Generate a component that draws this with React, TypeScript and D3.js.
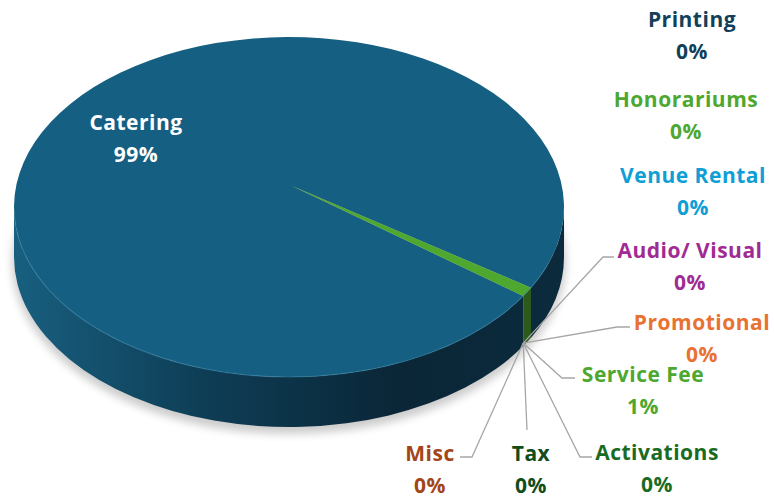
import React from "react";
import * as d3 from "d3";

const categories = ["Catering", "Service Fee", "Printing", "Honorariums", "Venue Rental", "Audio/ Visual", "Promotional", "Activations", "Tax", "Misc"];
const amounts = [99.1, 0.9, 0, 0, 0, 0, 0, 0, 0, 0];
const sliceColors = ["#156082", "#4EA72E", "#123F5A", "#4EA72E", "#0F9ED5", "#A02B93", "#E97132", "#196B24", "#114D1A", "#A34519"];
const sideColors = ["#0d3a50", "#2c5a1b", "#0a2738", "#2c5a1b", "#09607f", "#5e1956", "#8a431d", "#0f4015", "#0a2e10", "#62290f"];

// label layout: [centerX, baselineY of first line]; leader polylines (null = none)
const labelPos: Record<string, [number, number]> = {
  "Catering": [136, 130],
  "Service Fee": [643, 382],
  "Printing": [692, 27],
  "Honorariums": [686, 107],
  "Venue Rental": [693, 183],
  "Audio/ Visual": [690, 258],
  "Promotional": [702, 330],
  "Activations": [657, 460],
  "Tax": [531, 461],
  "Misc": [430, 461],
};
const leaderEnds: Record<string, [number, number][] | null> = {
  "Service Fee": [[562, 378], [575, 378]],
  "Audio/ Visual": [[603, 257], [614, 257]],
  "Promotional": [[617, 327], [630, 327]],
  "Activations": [[580, 457], [592, 457]],
  "Tax": [[527, 430]],
  "Misc": [[472, 457], [460, 457]],
};

const W = 774, H = 498;
const cx = 289, cy = 207, rx = 275, ry = 170, depth = 50;
const apex: [number, number] = [292, 186];
const startA = (121.6 * Math.PI) / 180;

const pt = (a: number, dy = 0): [number, number] => [cx + rx * Math.sin(a), cy - ry * Math.cos(a) + dy];

function topPath(s: number, e: number) {
  if (e - s >= 2 * Math.PI - 1e-9) {
    const p0 = pt(0), p1 = pt(Math.PI);
    return `M${p0}A${rx},${ry},0,1,1,${p1}A${rx},${ry},0,1,1,${p0}Z`;
  }
  const p0 = pt(s), p1 = pt(e);
  const large = e - s > Math.PI ? 1 : 0;
  return `M${apex}L${p0}A${rx},${ry},0,${large},1,${p1}Z`;
}

function sidePaths(s: number, e: number) {
  const out: string[] = [];
  for (let k = -1; k <= 2; k++) {
    const fs = Math.PI / 2 + 2 * Math.PI * k, fe = (3 * Math.PI) / 2 + 2 * Math.PI * k;
    const a0 = Math.max(s, fs), a1 = Math.min(e, fe);
    if (a1 - a0 > 1e-6) {
      const p0 = pt(a0), p1 = pt(a1), q1 = pt(a1, depth), q0 = pt(a0, depth);
      out.push(`M${p0}A${rx},${ry},0,0,1,${p1}L${q1}A${rx},${ry},0,0,0,${q0}Z`);
    }
  }
  return out;
}

export default function App() {
  const total = d3.sum(amounts);
  const pie = d3.pie<number>().sort(null).startAngle(startA).endAngle(startA + 2 * Math.PI);
  const arcs = pie(amounts);
  const fmt = d3.format(".0%");
  const anchor = pt(startA, depth - 3);
  const font = "'Open Sans', sans-serif";

  return (
    <svg width={W} height={H} style={{ position: "absolute", left: 0, top: 0, display: "block" }}>
      <defs>
        <linearGradient id="sideGrad" gradientUnits="userSpaceOnUse" x1={cx - rx} x2={cx + rx} y1={0} y2={0}>
          <stop offset="0" stopColor="#185f7f" />
          <stop offset="0.35" stopColor="#0e3d55" />
          <stop offset="0.7" stopColor="#0a2637" />
          <stop offset="1" stopColor="#0b2b3c" />
        </linearGradient>
        <filter id="shadow" x="-20%" y="-20%" width="140%" height="140%">
          <feGaussianBlur stdDeviation="4" />
        </filter>
      </defs>
      <rect width={W} height={H} fill="#fff" />
      <ellipse cx={cx} cy={cy + depth + 5} rx={rx + 2} ry={ry + 2} fill="#000" opacity={0.2} filter="url(#shadow)" />
      {arcs.map((d, i) =>
        sidePaths(d.startAngle, d.endAngle).map((p, j) => (
          <path key={`s${i}-${j}`} d={p} fill={i === 0 ? "url(#sideGrad)" : sideColors[i]} />
        ))
      )}
      {arcs.map((d, i) =>
        d.endAngle - d.startAngle > 1e-6 ? (
          <path key={`t${i}`} d={topPath(d.startAngle, d.endAngle)} fill={sliceColors[i]} />
        ) : null
      )}
      <path
        d={`M${pt(Math.PI / 2 + 0.35)}A${rx},${ry},0,0,1,${pt((3 * Math.PI) / 2 - 0.05)}`}
        fill="none"
        stroke="#3a86ab"
        strokeWidth={1.2}
        opacity={0.5}
      />
      {categories.map((c, i) => {
        const le = leaderEnds[c];
        if (!le) return null;
        const pts = [anchor, ...le];
        return <path key={`l${i}`} d={d3.line()(pts) || ""} fill="none" stroke="#a6a6a6" strokeWidth={1.3} />;
      })}
      {categories.map((c, i) => {
        const [x, y] = labelPos[c];
        const col = i === 0 ? "#ffffff" : sliceColors[i];
        return (
          <text key={`x${i}`} x={x} y={y} textAnchor="middle" fontFamily={font} fontWeight={700} fontSize={21} letterSpacing={0.5} fill={col}>
            <tspan x={x}>{c}</tspan>
            <tspan x={x} dy={32}>{fmt(amounts[i] / total)}</tspan>
          </text>
        );
      })}
    </svg>
  );
}
